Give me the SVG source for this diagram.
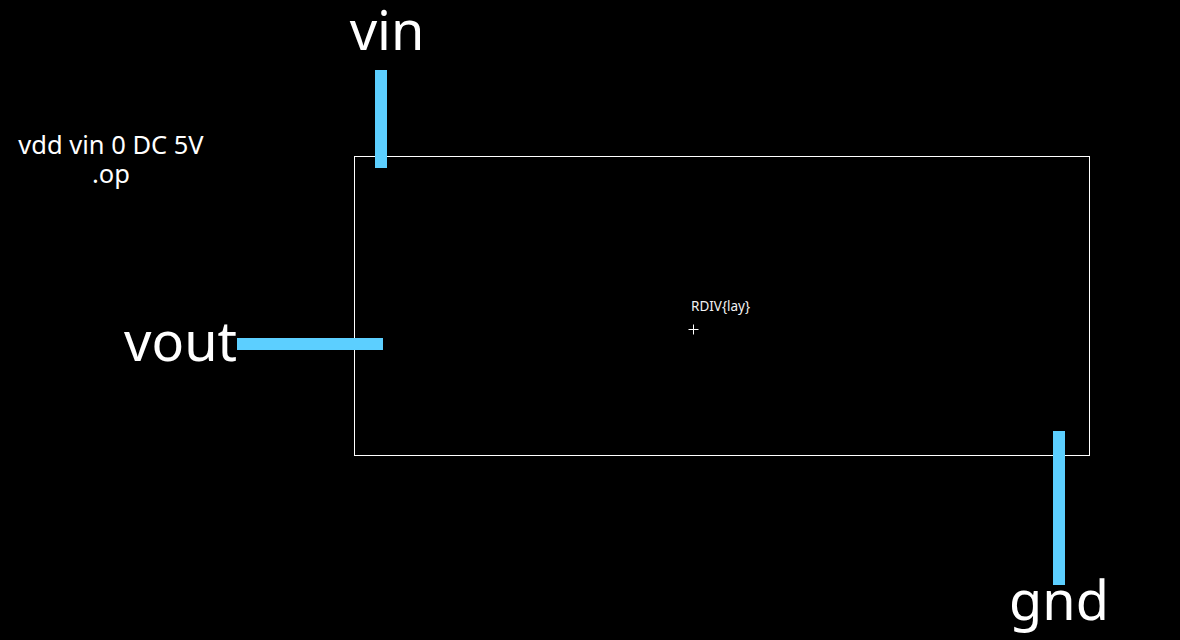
<svg xmlns="http://www.w3.org/2000/svg" width="1180" height="640" viewBox="0 0 1180 640">
<style>
.bg{fill:#000}
.pin{fill:#5ccfff}
.big{font-family:"Noto Sans","Open Sans",sans-serif;font-size:54px;fill:#fff}
.small{font-family:"Noto Sans","Open Sans",sans-serif;font-size:25.5px;fill:#fff}
.lbl{font-family:"Noto Sans","Open Sans",sans-serif;font-size:13.5px;fill:#f2f2f2}
.box{fill:none;stroke:#fff;stroke-width:1}
</style>
<rect class="bg" x="0" y="0" width="1180" height="640"/>
<g id="netlist">
<text class="small" x="111" y="154" text-anchor="middle">vdd vin 0 DC 5V</text>
<text class="small" x="111" y="183" text-anchor="middle">.op</text>
</g>
<g id="rdiv">
<rect class="box" x="354.5" y="156.5" width="735" height="299"/>
<text class="lbl" x="691" y="311">RDIV{lay}</text>
<path d="M688.5 329.5h10M693.5 324.5v10" stroke="#fff" stroke-width="1"/>
</g>
<g id="connectors">
<rect class="pin" x="375" y="70" width="12" height="98"/>
<rect class="pin" x="237" y="338" width="146" height="12"/>
<rect class="pin" x="1053" y="431" width="12" height="154"/>
</g>
<g id="vin">
<text class="big" x="387" y="50" text-anchor="middle">vin</text>
</g>
<g id="vout">
<text class="big" x="237" y="361" text-anchor="end" font-size="55">vout</text>
</g>
<g id="gnd">
<text class="big" x="1059" y="620" text-anchor="middle">gnd</text>
</g>
</svg>
